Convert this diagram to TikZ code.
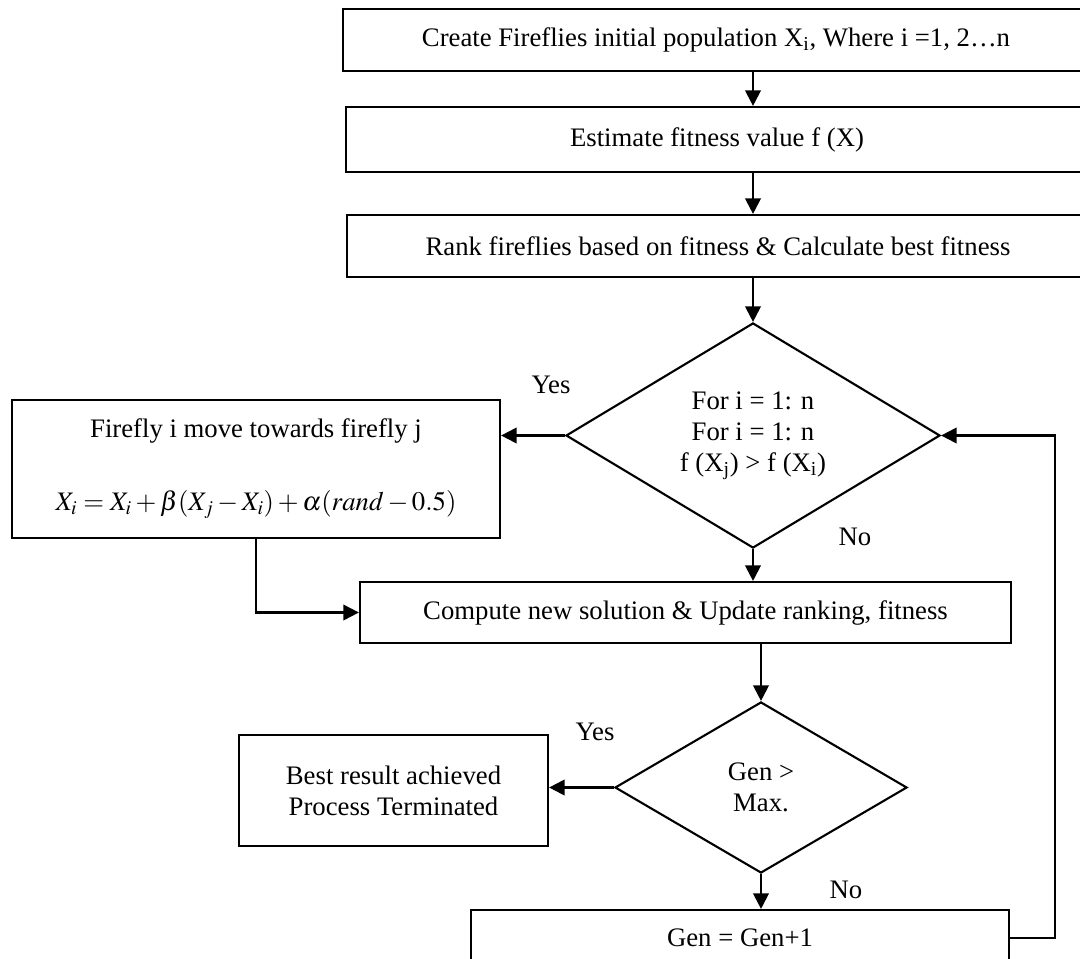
\documentclass[tikz,border=0pt]{standalone}
\usepackage{amsmath}
\usepackage{mathptmx}
\usepackage{fontspec}
\setmainfont{Liberation Serif}
\usetikzlibrary{shapes.geometric,arrows.meta}

\begin{document}
\begin{tikzpicture}[x=0.025cm, y=-0.025cm,
        every node/.style={font=\fontsize{19}{22}\selectfont},
        box/.style={draw, line width=1.5pt, rectangle, inner sep=0pt, align=center},
        test/.style={draw, line width=1.5pt, diamond, inner sep=0pt, align=center},
        arr/.style={line width=1.5pt, -{Triangle[length=11pt, width=11pt]}}]
        \clip (0,0) rectangle (1080,959);

        % Main steps
        \node[box, minimum width=18.65cm, minimum height=1.55cm] (init) at (716,40)
            {Create Fireflies initial population X\textsubscript{i}, Where i =1, 2…n};
        \node[box, minimum width=18.55cm, minimum height=1.625cm] (eval) at (717,139.5)
            {Estimate fitness value f (X)};
        \node[box, minimum width=18.55cm, minimum height=1.55cm] (rank) at (718,246)
            {Rank fireflies based on fitness \& Calculate best fitness};

        % First decision and move
        \node[test, aspect=1.66, minimum width=9.35cm, minimum height=5.625cm] (cmp) at (753,435.5)
            {For i = 1: n\\For i = 1: n\\f (X\textsubscript{j}) > f (X\textsubscript{i})};
        \node[box, minimum width=12.2cm, minimum height=3.45cm] (move) at (256,469)
            {Firefly i move towards firefly j\\[30pt]
             $X_{i} = X_{i} + \beta(X_{j} - X_{i}) + \alpha(rand - 0.5)$};
        \node[box, minimum width=16.275cm, minimum height=1.525cm] (upd) at (685.5,612.5)
            {Compute new solution \& Update ranking, fitness};

        % Second decision
        \node[test, aspect=1.7, minimum width=7.3cm, minimum height=4.275cm] (gen) at (761,787.5)
            {Gen >\\Max.};
        \node[box, minimum width=7.725cm, minimum height=2.775cm] (best) at (393.5,790.5)
            {Best result achieved\\Process Terminated};
        \node[box, minimum width=13.45cm, minimum height=1.4cm] (inc) at (740,938)
            {Gen = Gen+1};

        % Labels
        \node (yes1) at (551,385) {Yes};
        \node (no1) at (855,537) {No};
        \node (yes2) at (595,732) {Yes};
        \node (no2) at (846,890) {No};
        \coordinate (back) at (1055,435.5);

        % Connect steps
        \draw[arr] (init.south -| cmp) -- (eval.north -| cmp);
        \draw[arr] (eval.south -| cmp) -- (rank.north -| cmp);
        \draw[arr] (rank.south -| cmp) -- (cmp.north);
        \draw[arr] (cmp.west) -- (cmp.west -| move.east);
        \draw[arr] (cmp.south) -- (upd.north -| cmp);
        \draw[arr] (move.south) |- (upd.west);
        \draw[arr] (upd.south -| gen) -- (gen.north);
        \draw[arr] (gen.west) -- (gen.west -| best.east);
        \draw[arr] (gen.south) -- (inc.north -| gen);
        \draw[arr] (inc.east) -| (back) -- (cmp.east);
    \end{tikzpicture}
\end{document}
